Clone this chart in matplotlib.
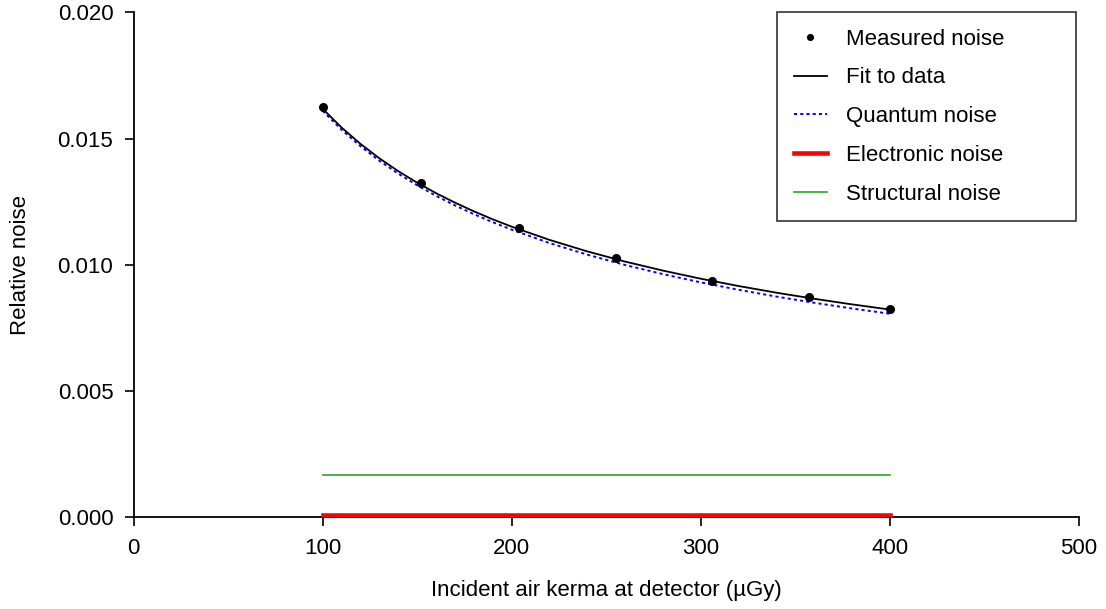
import matplotlib
matplotlib.use("Agg")
import matplotlib.pyplot as plt
from matplotlib.ticker import FormatStrFormatter

plt.rcParams['font.family'] = ['Liberation Sans', 'DejaVu Sans']

# Measured data
kerma = [100, 152, 204, 255, 306, 357, 400]
measured = [0.01624, 0.01324, 0.01144, 0.01028, 0.00936, 0.00872, 0.00824]

# Curves
curve_x = [100, 110, 120, 130, 140, 150, 160, 170, 180, 190, 200,
           220, 240, 260, 280, 300, 320, 340, 360, 380, 400]
fit_y = [0.016184, 0.015439, 0.014790, 0.014217, 0.013707, 0.013249, 0.012834,
         0.012458, 0.012113, 0.011796, 0.011504, 0.010980, 0.010523, 0.010119,
         0.009762, 0.009440, 0.009150, 0.008885, 0.008644, 0.008422, 0.008217]
quantum_y = [0.016100, 0.015351, 0.014698, 0.014121, 0.013607, 0.013146, 0.012728,
             0.012348, 0.012000, 0.011680, 0.011385, 0.010855, 0.010393, 0.009984,
             0.009622, 0.009295, 0.009000, 0.008731, 0.008485, 0.008259, 0.008050]
line_x = [100, 400]
electronic_y = [0.00006, 0.00006]
structural_y = [0.00165, 0.00165]

xticks = [0, 100, 200, 300, 400, 500]
yticks = [0.000, 0.005, 0.010, 0.015, 0.020]

FS = 16

fig = plt.figure(figsize=(11.06, 6.09), dpi=100)
ax = fig.add_axes([133.5 / 1106, 1 - 516.7 / 609, (1079 - 133.5) / 1106, (516.7 - 12.5) / 609])

ax.plot(kerma, measured, 'o', color='black', markersize=5.5, label='Measured noise', zorder=5)
ax.plot(curve_x, fit_y, '-', color='black', linewidth=1.3, label='Fit to data', zorder=4)
ax.plot(curve_x, quantum_y, color='blue', linewidth=1.4, linestyle=(0, (1.6, 1.6)),
        label='Quantum noise', zorder=3)
ax.plot(line_x, electronic_y, '-', color='red', linewidth=3.3, label='Electronic noise', zorder=3)
ax.plot(line_x, structural_y, '-', color='#22aa22', linewidth=1.2, label='Structural noise', zorder=3)

ax.set_xlim(0, 500)
ax.set_ylim(0, 0.020)
ax.set_xticks(xticks)
ax.set_yticks(yticks)
ax.yaxis.set_major_formatter(FormatStrFormatter('%.3f'))

for s in ['top', 'right']:
    ax.spines[s].set_visible(False)
for s in ['left', 'bottom']:
    ax.spines[s].set_linewidth(1.3)
    ax.spines[s].set_color('black')
ax.tick_params(axis='both', direction='out', length=6.5, width=1.2, labelsize=FS)
ax.tick_params(axis='x', pad=9)
ax.tick_params(axis='y', pad=8)

ax.set_xlabel('Incident air kerma at detector (µGy)', fontsize=FS)
ax.set_ylabel('Relative noise', fontsize=FS)
ax.xaxis.set_label_coords(0.5, -0.125)
ax.yaxis.set_label_coords(-0.108, 0.5)

handles, labels = ax.get_legend_handles_labels()
x0 = (777 - 133.5) / 945.5
w = (1076 - 777) / 945.5
leg = ax.legend(handles, labels, loc='upper left',
                bbox_to_anchor=(x0, 0.5, w, 0.5 + 0.5 / 504.2), mode='expand',
                frameon=True, fancybox=False, fontsize=FS, handlelength=1.5,
                handletextpad=0.85, labelspacing=0.8, borderpad=0.75,
                borderaxespad=0, markerscale=0.75)
leg.get_frame().set_edgecolor('black')
leg.get_frame().set_linewidth(1.2)

fig.savefig('out.png', dpi=100)
